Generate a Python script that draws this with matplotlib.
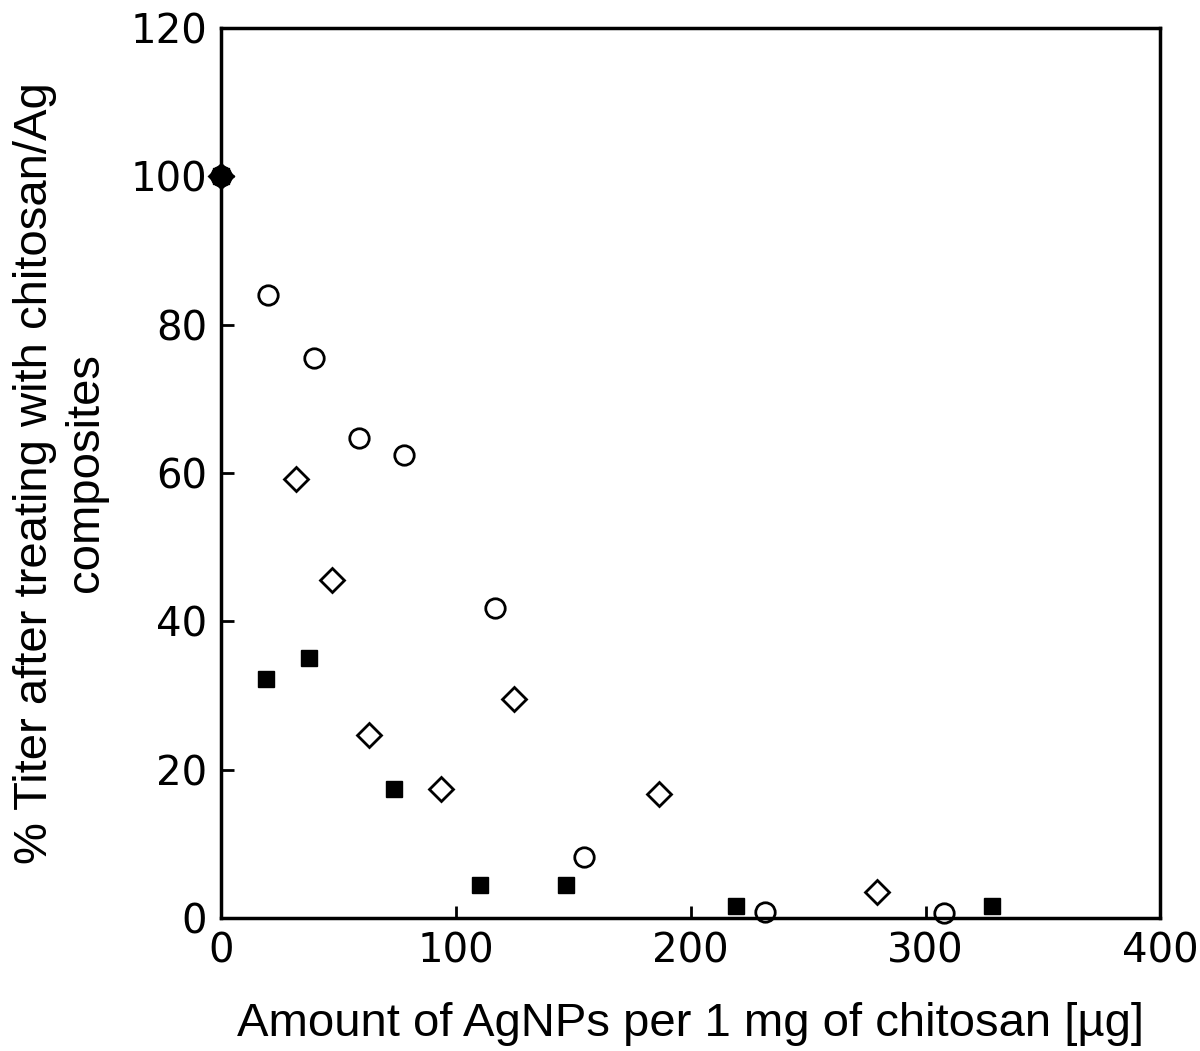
import matplotlib.pyplot as plt

plt.rcParams['font.family'] = ['Liberation Sans', 'DejaVu Sans']

# open circles
circle_x = [0, 20.0, 39.6, 58.8, 78.0, 116.7, 154.6, 231.7, 308.0]
circle_y = [100, 84.0, 75.5, 64.7, 62.4, 41.8, 8.2, 0.8, 0.7]
# open diamonds
diamond_x = [0, 31.9, 47.3, 63.0, 93.7, 124.8, 186.6, 279.4]
diamond_y = [100, 59.2, 45.6, 24.7, 17.4, 29.5, 16.7, 3.5]
# filled squares
square_x = [0, 19.2, 37.5, 73.7, 110.3, 147.0, 219.4, 328.4]
square_y = [100, 32.2, 35.1, 17.4, 4.5, 4.5, 1.6, 1.6]

xticks = [0, 100, 200, 300, 400]
yticks = [0, 20, 40, 60, 80, 100, 120]

fig = plt.figure(figsize=(12, 10.51), dpi=100)
ax = fig.add_axes([0.184, 0.1266, 0.783, 0.8468])

ax.plot(square_x, square_y, 's', ms=12, mfc='black', mec='black', ls='none', clip_on=False)
ax.plot(circle_x, circle_y, 'o', ms=14, mfc='white', mec='black', mew=2, ls='none', clip_on=False)
ax.plot(diamond_x, diamond_y, 'D', ms=12, mfc='white', mec='black', mew=2, ls='none', clip_on=False)
# the overlapping start point looks solid black
ax.plot([0], [100], 'o', ms=14, color='black', clip_on=False)
ax.plot([0], [100], 'D', ms=12, color='black', clip_on=False)

ax.set_xlim(0, 400)
ax.set_ylim(0, 120)
ax.set_xticks(xticks)
ax.set_yticks(yticks)
ax.tick_params(direction='in', length=9, width=2, labelsize=29, pad=10)
for lab in ax.get_xticklabels() + ax.get_yticklabels():
    lab.set_family('DejaVu Sans')
for s in ax.spines.values():
    s.set_linewidth(2.5)

ax.set_xlabel('Amount of AgNPs per 1 mg of chitosan [µg]', fontsize=34, labelpad=22)
ax.set_ylabel('% Titer after treating with chitosan/Ag\ncomposites', fontsize=34, labelpad=16)

fig.savefig('out.png', dpi=100)
